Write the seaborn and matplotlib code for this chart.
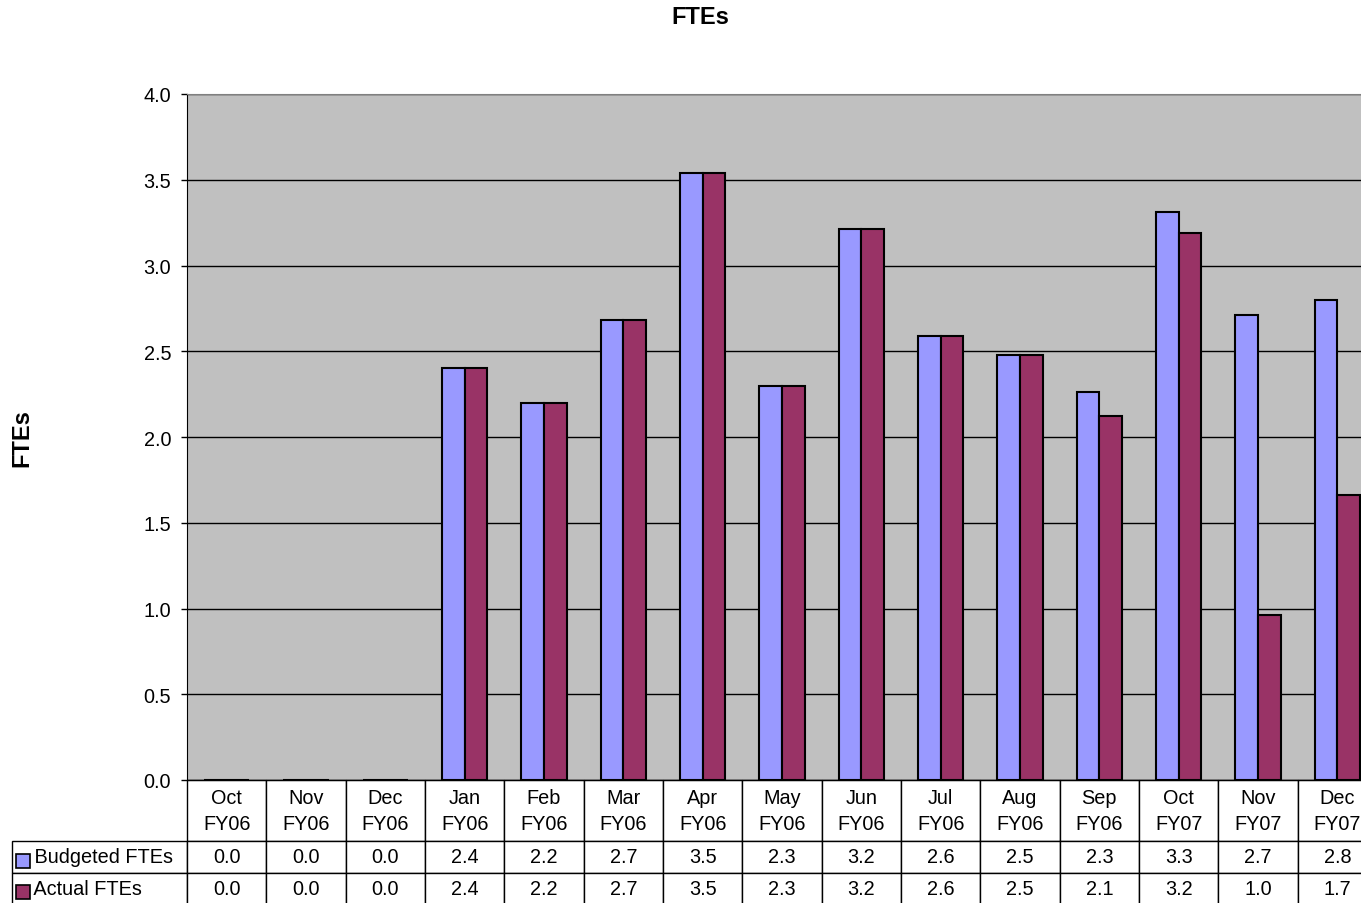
import pandas as pd
import matplotlib.pyplot as plt
import seaborn as sns
from matplotlib.patches import Rectangle

plt.rcParams['font.family'] = ['Liberation Sans', 'DejaVu Sans']

# ---------------------------
# data
# ---------------------------
months = ['Oct', 'Nov', 'Dec', 'Jan', 'Feb', 'Mar', 'Apr', 'May',
          'Jun', 'Jul', 'Aug', 'Sep', 'Oct', 'Nov', 'Dec']
fiscal_years = ['FY06'] * 12 + ['FY07'] * 3
budgeted = [0.0, 0.0, 0.0, 2.40, 2.20, 2.68, 3.54, 2.30, 3.21, 2.59, 2.48, 2.26, 3.31, 2.71, 2.80]
actual = [0.0, 0.0, 0.0, 2.40, 2.20, 2.68, 3.54, 2.30, 3.21, 2.59, 2.48, 2.12, 3.19, 0.96, 1.66]
series_names = ['Budgeted FTEs', 'Actual FTEs']
series_colors = ['#9999FF', '#993366']

periods = [f"{m}\n{fy}" for m, fy in zip(months, fiscal_years)]
df = pd.DataFrame({
    'period': periods * 2,
    'series': [series_names[0]] * len(periods) + [series_names[1]] * len(periods),
    'fte': budgeted + actual,
})

FS = 14.3

# ---------------------------
# figure
# ---------------------------
W, H = 1361, 904
fig = plt.figure(figsize=(W / 100, H / 100), dpi=100)
ax_w, ax_h = 1190, 686
ax = fig.add_axes([187 / W, 123 / H, ax_w / W, ax_h / H])
ax.set_facecolor('#C0C0C0')

sns.barplot(data=df, x='period', y='fte', hue='series', palette=series_colors,
            width=0.57, edgecolor='black', linewidth=1.5, saturation=1,
            legend=False, ax=ax)

ax.set_ylim(0, 4)
ax.set_xlim(-0.5, len(periods) - 0.5)
ax.set_yticks([i * 0.5 for i in range(9)])
ax.set_yticklabels([f"{i * 0.5:.1f}" for i in range(9)], fontsize=FS)
ax.tick_params(axis='y', length=4.5, width=1, pad=7, color='black')
ax.set_xticks([])
ax.set_xlabel('')
ax.set_ylabel('')
ax.set_axisbelow(True)
ax.yaxis.grid(True, color='black', linewidth=1)
ax.spines['top'].set_color('#808080')
ax.spines['left'].set_color('black')
ax.spines['bottom'].set_color('black')
ax.spines['right'].set_visible(False)

fig.text(700 / W, 1 - 17 / H, 'FTEs', ha='center', va='center',
         fontsize=17, fontweight='bold')
fig.text(22 / W, 1 - 438 / H, 'FTEs', ha='center', va='center',
         rotation=90, fontsize=17, fontweight='bold')

# ---------------------------
# data table under the chart
# ---------------------------
label_w, col_w = 175, ax_w / len(periods)
cell_text = [[' ' + series_names[0]] + [f"{v:.1f}" for v in budgeted],
             [' ' + series_names[1]] + [f"{v:.1f}" for v in actual]]
tbl = ax.table(cellText=cell_text, colLabels=[''] + periods, cellLoc='center',
               bbox=[-label_w / ax_w, -125 / ax_h, (label_w + ax_w) / ax_w, 125 / ax_h])
tbl.auto_set_font_size(False)
tbl.set_fontsize(FS)
for (r, c), cell in tbl.get_celld().items():
    cell.set_width(label_w if c == 0 else col_w)
    cell.set_height(61 if r == 0 else 32)
    cell.set_linewidth(1)
    cell.set_edgecolor('black')
    cell.set_facecolor('white')
    if r == 0:
        cell.get_text().set_linespacing(1.45)
    if c == 0:
        cell.set_text_props(ha='left')
    if r == 0 and c == 0:
        cell.set_edgecolor('none')
        cell.set_facecolor('none')

# legend keys in the row labels
for i, col in enumerate(series_colors):
    y = 1 - (862 + i * 31) / H
    fig.patches.append(Rectangle((16 / W, y - 7 / H), 14 / W, 14 / H,
                                 transform=fig.transFigure, facecolor=col,
                                 edgecolor='black', linewidth=1.2, zorder=5))

fig.savefig('out.png', dpi=100)
